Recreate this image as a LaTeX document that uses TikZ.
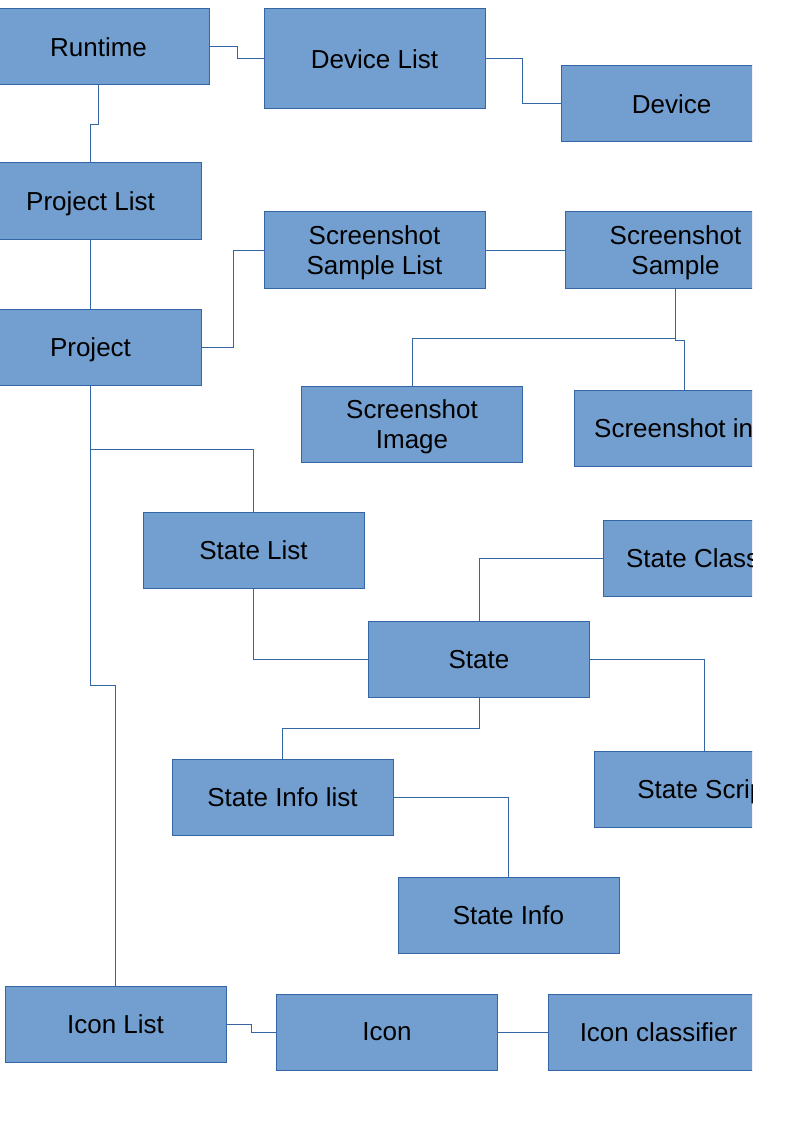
\documentclass[tikz,border=0pt]{standalone}
\usepackage{fontspec}
\setmainfont{Liberation Sans}
\usepackage{tikz}
\usetikzlibrary{calc}
\definecolor{boxfill}{RGB}{114, 159, 207}
\definecolor{boxline}{RGB}{52, 101, 164}

\begin{document}
\begin{tikzpicture}[
    x=0.75pt, y=-0.75pt,
    block/.style={rectangle, draw=boxline, fill=boxfill, line width=0.75pt,
        minimum width=165.75pt, minimum height=57pt, inner sep=0pt,
        text depth=0pt, align=center, font=\fontsize{19.5}{22}\selectfont},
    tall/.style={block, minimum height=75pt},
    link/.style={draw=boxline, line width=0.75pt},
]
    \useasboundingbox (0,0) rectangle (794,1123);
    \begin{scope}
    \clip (0,0) rectangle (752,1123);
    % top row
    \node[block] (runtime) at (98.5, 47) {Runtime};
    \node[tall] (devlist) at (374.5, 59) {Device List};
    \node[block] (device) at (671.5, 104) {Device};
    \node[block] (projlist) at (90.5, 201) {Project List};
    \node[block] (project) at (90.5, 347) {Project};
    % screenshots
    \node[block] (shotlist) at (374.5, 250) {Screenshot\\Sample List};
    \node[block] (shot) at (675.5, 250) {Screenshot\\Sample};
    \node[block] (shotimg) at (412, 424) {Screenshot\\Image};
    \node[block] (shotinfo) at (684.5, 428) {Screenshot info};
    % states
    \node[block] (statelist) at (253.5, 550) {State List};
    \node[block] (stateclass) at (713.5, 558) {State Classifier};
    \node[block] (state) at (479, 659) {State};
    \node[block] (statescript) at (704.5, 789) {State Script};
    \node[block] (infolist) at (282.5, 797) {State Info list};
    \node[block] (info) at (508.5, 915) {State Info};
    % icons
    \node[block] (iconlist) at (115.5, 1024) {Icon List};
    \node[block] (icon) at (387, 1032) {Icon};
    \node[block] (iconcls) at (658.5, 1032) {Icon classifier};

    \draw[link] (runtime.east) -- ++(28,0) |- (devlist.west);
    \draw[link] (devlist.east) -- ++(37,0) |- (device.west);
    \draw[link] (runtime.south) -- ++(0,39) -| (projlist.north);
    \draw[link] (projlist) -- (project);
    \draw[link] (project.east) -- ++(32,0) |- (shotlist.west);
    \draw[link] (shotlist) -- (shot);
    \draw[link] (shot.south) -- ++(0,50) -| (shotimg.north);
    \draw[link] (shot.south) -- ++(0,51.5) -| (shotinfo.north);
    \draw[link] (project.south) -- ++(0,64) -| (statelist.north);
    \draw[link] (project.south) -- ++(0,300) -| (iconlist.north);
    \draw[link] (statelist.south) |- (state.west);
    \draw[link] (state.north) |- (stateclass.west);
    \draw[link] (state.east) -| (statescript.north);
    \draw[link] (state.south) -- ++(0,31) -| (infolist.north);
    \draw[link] (infolist.east) -| (info.north);
    \draw[link] (iconlist.east) -- ++(25,0) |- (icon.west);
    \draw[link] (icon) -- (iconcls);
    \end{scope}
\end{tikzpicture}
\end{document}
